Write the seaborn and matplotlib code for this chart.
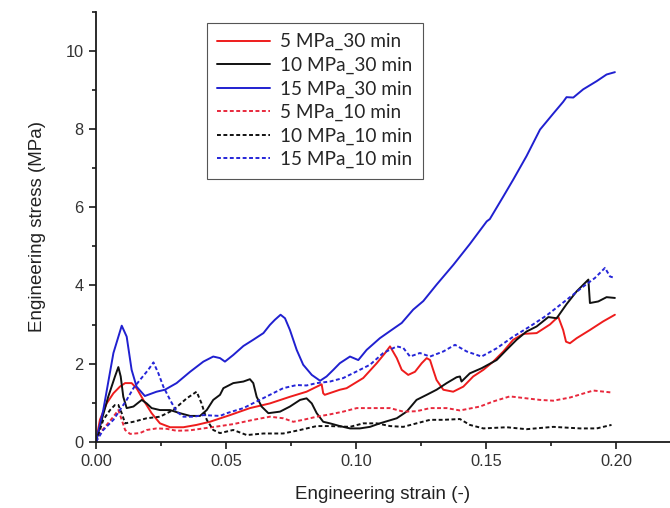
import matplotlib
matplotlib.use("Agg")
import matplotlib.pyplot as plt
from matplotlib.ticker import MultipleLocator, FormatStrFormatter
import seaborn as sns
import pandas as pd

# Stress-strain curves for the six pressing conditions
strain_5_30 = [0, 0.0015, 0.0041, 0.0067, 0.0092, 0.0112, 0.0137, 0.0156, 0.0182, 0.0214, 0.0246,
               0.0285, 0.0336, 0.0387, 0.0438, 0.0515, 0.0592, 0.0669, 0.0746, 0.081, 0.0862,
               0.0868, 0.0874, 0.088, 0.0938, 0.0964, 0.1028, 0.108, 0.1112, 0.1131, 0.1157,
               0.1176, 0.1201, 0.1227, 0.1253, 0.1272, 0.1285, 0.1297, 0.131, 0.1336, 0.1374,
               0.1413, 0.1451, 0.149, 0.1528, 0.1567, 0.1605, 0.1644, 0.1695, 0.1746, 0.1778,
               0.1797, 0.1808, 0.1823, 0.1849, 0.19, 0.1951, 0.1996]
stress_5_30 = [0, 0.56, 0.98, 1.24, 1.41, 1.5, 1.5, 1.37, 1.07, 0.73, 0.47,
               0.37, 0.37, 0.43, 0.51, 0.68, 0.86, 0.98, 1.15, 1.28, 1.45,
               1.47, 1.24, 1.2, 1.33, 1.37, 1.63, 2.01, 2.27, 2.44, 2.14,
               1.84, 1.71, 1.79, 2.01, 2.14, 2.09, 1.84, 1.58, 1.33, 1.28,
               1.41, 1.67, 1.84, 2.05, 2.31, 2.61, 2.76, 2.78, 3.0, 3.2,
               2.86, 2.56, 2.52, 2.65, 2.86, 3.08, 3.25]

strain_10_30 = [0, 0.0022, 0.0047, 0.0073, 0.0086, 0.0095, 0.0105, 0.0118, 0.0144, 0.0176, 0.0195,
                0.0214, 0.0246, 0.0285, 0.0323, 0.0362, 0.04, 0.0426, 0.0451, 0.0477, 0.049,
                0.0528, 0.0567, 0.0592, 0.0605, 0.0618, 0.0637, 0.0663, 0.0708, 0.0746, 0.0785,
                0.081, 0.083, 0.0849, 0.0874, 0.09, 0.0938, 0.0977, 0.1015, 0.1054, 0.1092,
                0.1157, 0.1195, 0.1233, 0.1272, 0.131, 0.1349, 0.1387, 0.14, 0.1406, 0.1438,
                0.1483, 0.1541, 0.1579, 0.1618, 0.1656, 0.1695, 0.174, 0.1772, 0.181, 0.1849,
                0.1894, 0.19, 0.1932, 0.1964, 0.1996]
stress_10_30 = [0, 0.56, 1.15, 1.67, 1.91, 1.67, 1.15, 0.86, 0.9, 1.07, 0.98,
                0.86, 0.81, 0.81, 0.73, 0.66, 0.66, 0.81, 1.07, 1.2, 1.37,
                1.5, 1.54, 1.6, 1.5, 1.15, 0.9, 0.73, 0.77, 0.9, 1.07,
                1.11, 0.98, 0.73, 0.51, 0.47, 0.4, 0.34, 0.34, 0.38, 0.47,
                0.6, 0.77, 1.07, 1.2, 1.33, 1.5, 1.65, 1.67, 1.54, 1.75,
                1.88, 2.09, 2.35, 2.61, 2.82, 2.95, 3.19, 3.16, 3.52, 3.85,
                4.15, 3.55, 3.59, 3.7, 3.68]

strain_15_30 = [0, 0.0028, 0.0067, 0.0099, 0.0118, 0.0137, 0.0156, 0.0188, 0.0233, 0.0265, 0.031,
                0.0362, 0.0413, 0.0451, 0.0477, 0.0496, 0.0528, 0.0567, 0.0605, 0.0644, 0.0669,
                0.0688, 0.071, 0.0727, 0.0746, 0.0772, 0.0797, 0.083, 0.0862, 0.0887, 0.0913,
                0.0938, 0.0977, 0.1009, 0.1041, 0.1092, 0.1137, 0.1176, 0.122, 0.1259, 0.131,
                0.1375, 0.1438, 0.1503, 0.1515, 0.1567, 0.1605, 0.1656, 0.1708, 0.1759, 0.1797,
                0.181, 0.1836, 0.1874, 0.1926, 0.1964, 0.1996]
stress_15_30 = [0, 0.81, 2.27, 2.97, 2.69, 1.84, 1.41, 1.17, 1.28, 1.33, 1.5,
                1.79, 2.05, 2.18, 2.14, 2.05, 2.22, 2.45, 2.61, 2.78, 2.99,
                3.12, 3.25, 3.16, 2.86, 2.35, 1.97, 1.71, 1.56, 1.67, 1.84,
                2.01, 2.18, 2.09, 2.35, 2.65, 2.86, 3.04, 3.38, 3.6, 4.02,
                4.53, 5.06, 5.64, 5.7, 6.28, 6.71, 7.31, 7.99, 8.4, 8.7,
                8.82, 8.81, 9.02, 9.23, 9.4, 9.46]

strain_5_10 = [0, 0.0015, 0.0041, 0.0067, 0.0086, 0.0099, 0.0112, 0.0131, 0.0169, 0.0195, 0.0233,
               0.0272, 0.031, 0.036, 0.0413, 0.0477, 0.0528, 0.0605, 0.0669, 0.072, 0.0759,
               0.0797, 0.0849, 0.09, 0.0951, 0.1003, 0.1067, 0.1131, 0.1182, 0.1233, 0.1285,
               0.1349, 0.14, 0.1477, 0.1528, 0.1592, 0.1656, 0.1708, 0.1759, 0.1823, 0.1913,
               0.1983]
stress_5_10 = [0, 0.22, 0.43, 0.64, 0.81, 0.56, 0.3, 0.2, 0.22, 0.3, 0.34,
               0.33, 0.28, 0.29, 0.34, 0.4, 0.45, 0.56, 0.64, 0.6, 0.51,
               0.56, 0.64, 0.7, 0.77, 0.86, 0.86, 0.86, 0.77, 0.78, 0.86,
               0.86, 0.8, 0.9, 1.03, 1.16, 1.11, 1.07, 1.05, 1.13, 1.31,
               1.26]

strain_10_10 = [0, 0.0028, 0.0054, 0.0073, 0.0086, 0.0099, 0.0112, 0.0144, 0.0195, 0.0246, 0.0297,
                0.0349, 0.0387, 0.0406, 0.0426, 0.0451, 0.0477, 0.0528, 0.058, 0.0644, 0.072,
                0.0785, 0.0849, 0.09, 0.0977, 0.1028, 0.108, 0.1131, 0.1182, 0.1233, 0.1285,
                0.1336, 0.14, 0.1438, 0.149, 0.158, 0.1656, 0.1759, 0.1862, 0.1926, 0.1983]
stress_10_10 = [0, 0.56, 0.81, 0.94, 0.94, 0.73, 0.47, 0.51, 0.6, 0.64, 0.81,
                1.11, 1.28, 0.98, 0.56, 0.3, 0.22, 0.3, 0.17, 0.21, 0.21,
                0.3, 0.4, 0.4, 0.38, 0.47, 0.47, 0.4, 0.38, 0.47, 0.56,
                0.56, 0.58, 0.43, 0.34, 0.37, 0.32, 0.38, 0.34, 0.34, 0.43]

strain_15_10 = [0, 0.0028, 0.0067, 0.0092, 0.0118, 0.0144, 0.0169, 0.0201, 0.0221, 0.024, 0.0259,
                0.0285, 0.031, 0.0336, 0.0375, 0.0413, 0.0477, 0.0503, 0.0567, 0.0618, 0.0669,
                0.072, 0.0772, 0.081, 0.0849, 0.09, 0.0951, 0.1003, 0.1054, 0.1105, 0.1157,
                0.1182, 0.1208, 0.1246, 0.1285, 0.1336, 0.1381, 0.1426, 0.1483, 0.1541, 0.1605,
                0.1669, 0.1733, 0.181, 0.1874, 0.1919, 0.1958, 0.1977, 0.1996]
stress_15_10 = [0, 0.3, 0.56, 0.81, 1.07, 1.37, 1.58, 1.84, 2.03, 1.75, 1.41,
                1.07, 0.77, 0.64, 0.64, 0.68, 0.66, 0.73, 0.86, 1.03, 1.2,
                1.37, 1.45, 1.44, 1.5, 1.54, 1.63, 1.8, 1.97, 2.27, 2.44,
                2.4, 2.18, 2.27, 2.18, 2.31, 2.48, 2.31, 2.18, 2.39, 2.69,
                2.95, 3.23, 3.63, 3.97, 4.19, 4.45, 4.23, 4.19]

labels = ["5 MPa_30 min", "10 MPa_30 min", "15 MPa_30 min",
          "5 MPa_10 min", "10 MPa_10 min", "15 MPa_10 min"]
strains = [strain_5_30, strain_10_30, strain_15_30, strain_5_10, strain_10_10, strain_15_10]
stresses = [stress_5_30, stress_10_30, stress_15_30, stress_5_10, stress_10_10, stress_15_10]

colors = {"5 MPa_30 min": "#ee1c1c", "10 MPa_30 min": "#111111", "15 MPa_30 min": "#2020d0",
          "5 MPa_10 min": "#e8283c", "10 MPa_10 min": "#111111", "15 MPa_10 min": "#2525d8"}
dashes = {"5 MPa_30 min": "", "10 MPa_30 min": "", "15 MPa_30 min": "",
          "5 MPa_10 min": (2.0, 1.3), "10 MPa_10 min": (2.0, 1.3), "15 MPa_10 min": (2.0, 1.3)}

frames = []
for lab, sx, sy in zip(labels, strains, stresses):
    frames.append(pd.DataFrame({"strain": sx, "stress": sy, "sample": lab}))
df = pd.concat(frames, ignore_index=True)

sns.set_style("ticks")
plt.rcParams["font.family"] = ["Liberation Sans", "DejaVu Sans"]

fig = plt.figure(figsize=(6.70, 5.08), dpi=100)
ax = fig.add_axes([96 / 670, 66.3 / 508, 574 / 670, 429.7 / 508])

sns.lineplot(data=df, x="strain", y="stress", hue="sample", style="sample",
             hue_order=labels, style_order=labels, palette=colors, dashes=dashes,
             sort=False, estimator=None, units="sample", linewidth=1.4, ax=ax, legend=False)

ax.set_xlim(0, 0.2208)
ax.set_ylim(0, 11)
ax.xaxis.set_major_locator(MultipleLocator(0.05))
ax.xaxis.set_minor_locator(MultipleLocator(0.025))
ax.xaxis.set_major_formatter(FormatStrFormatter("%.2f"))
ax.yaxis.set_major_locator(MultipleLocator(2))
ax.yaxis.set_minor_locator(MultipleLocator(1))

for side in ["top", "right"]:
    ax.spines[side].set_visible(False)
for side in ["left", "bottom"]:
    ax.spines[side].set_linewidth(1.3)
    ax.spines[side].set_color("#1a1a1a")

ax.tick_params(which="major", direction="out", length=5, width=1.2, colors="#1a1a1a",
               labelsize=11.8, labelcolor="#333333", pad=4)
ax.tick_params(which="minor", direction="out", length=3, width=1.2, colors="#1a1a1a")

ax.set_xlabel("Engineering strain (-)", fontsize=13.5, color="#222222", labelpad=12)
ax.set_ylabel("Engineering stress (MPa)", fontsize=13.5, color="#222222", labelpad=14)

# Legend drawn with line handles matching each series
handles = []
for lab in labels:
    ls = "-" if dashes[lab] == "" else (0, dashes[lab])
    h, = ax.plot([], [], color=colors[lab], linestyle=ls, linewidth=1.4)
    handles.append(h)
leg = ax.legend(handles, labels, loc="upper left", bbox_to_anchor=(111 / 574, 419 / 429.7),
                frameon=True, fancybox=False, edgecolor="#555555", framealpha=1,
                prop={"family": ["Lato", "DejaVu Sans"], "size": 13.7},
                handlelength=2.75, handletextpad=0.55, labelspacing=0.33, borderpad=0.55,
                borderaxespad=0)
leg.get_frame().set_linewidth(0.8)

fig.savefig("out.png", dpi=100)
